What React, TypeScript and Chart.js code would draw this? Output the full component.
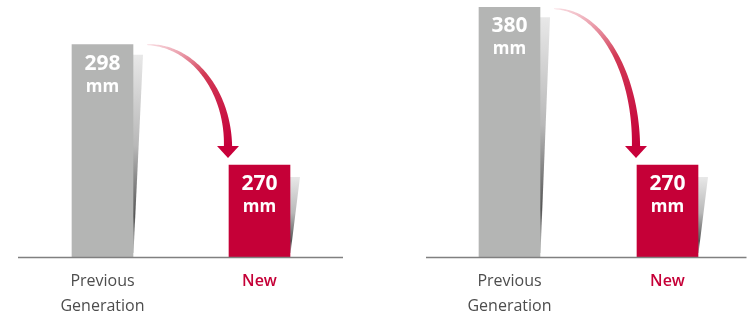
import React, { useEffect, useRef } from 'react';
import { Chart, registerables } from 'chart.js';

Chart.register(...registerables);

// ---- data ----
const categories: (string | string[])[] = [['Previous', 'Generation'], 'New'];
const leftValues = [298, 270];
const rightValues = [380, 270];
const unitLabel = 'mm';

const GRAY = '#b4b5b4';
const RED = '#c50037';
const LABEL_GRAY = '#4d4d4d';
const FONT = '"Open Sans", "Noto Sans", sans-serif';

const decorPlugin = {
  id: 'decor',
  beforeDatasetsDraw(chart: any) {
    const ctx = chart.ctx;
    const meta = chart.getDatasetMeta(0);
    const area = chart.chartArea;
    ctx.save();
    meta.data.forEach((bar: any, i: number) => {
      const base = Math.min(bar.base, area.bottom);
      const right = bar.x + bar.width / 2;
      const top = bar.y + (i === 0 ? 10 : 12);
      const bottom = base - 4;
      const g = ctx.createLinearGradient(0, top, 0, base);
      g.addColorStop(0, '#e8e8e8');
      g.addColorStop(0.45, '#b8b8b8');
      g.addColorStop(0.8, '#555555');
      g.addColorStop(1, '#d0d0d0');
      ctx.fillStyle = g;
      ctx.beginPath();
      ctx.moveTo(right, top);
      ctx.lineTo(right + 10, top);
      ctx.lineTo(right + 0.5, bottom);
      ctx.lineTo(right, bottom);
      ctx.closePath();
      ctx.fill();
    });
    ctx.restore();
  },
  afterDatasetsDraw(chart: any, _args: any, opts: any) {
    const ctx = chart.ctx;
    const area = chart.chartArea;
    const meta = chart.getDatasetMeta(0);
    ctx.save();
    // baseline
    ctx.strokeStyle = '#808080';
    ctx.lineWidth = 1.3;
    ctx.beginPath();
    ctx.moveTo(area.left - (opts.extendLeft || 0), area.bottom + 0.5);
    ctx.lineTo(area.right + (opts.extendRight || 0), area.bottom + 0.5);
    ctx.stroke();

    // value labels
    const values = chart.data.datasets[0].data;
    meta.data.forEach((bar: any, i: number) => {
      ctx.fillStyle = '#ffffff';
      ctx.textAlign = 'center';
      ctx.textBaseline = 'middle';
      ctx.font = `bold 21px ${FONT}`;
      ctx.fillText(String(values[i]), bar.x, bar.y + 19);
      ctx.font = `bold 17px ${FONT}`;
      ctx.fillText(unitLabel, bar.x, bar.y + 42);
    });

    // arrow
    const g0 = meta.data[0];
    const r = meta.data[1];
    const sx = g0.x + g0.width / 2 + 14;
    const sy = g0.y + (opts.startDy || 0);
    const ex = r.x - r.width / 2 - 1;
    const headBaseY = r.y - 19;
    const tipY = r.y - 7;
    const cx = sx;
    const cy = headBaseY;
    const rx = ex - sx;
    const ry = headBaseY - sy;
    const N = 80;
    const outer: [number, number][] = [];
    const inner: [number, number][] = [];
    for (let k = 0; k <= N; k++) {
      const t = k / N;
      const th = (Math.PI / 2) * (1 - t);
      const px = cx + rx * Math.cos(th);
      const py = cy - ry * Math.sin(th);
      let tx = rx * Math.sin(th);
      let ty = ry * Math.cos(th);
      const len = Math.hypot(tx, ty) || 1;
      tx /= len;
      ty /= len;
      const nx = -ty;
      const ny = tx;
      const hw = 0.3 + 3.8 * Math.pow(t, 0.8);
      outer.push([px + nx * hw, py + ny * hw]);
      inner.push([px - nx * hw, py - ny * hw]);
    }
    const grad = ctx.createLinearGradient(sx, sy, ex, headBaseY);
    grad.addColorStop(0, 'rgba(235,150,165,0.35)');
    grad.addColorStop(0.45, '#d23a55');
    grad.addColorStop(1, '#c5003a');
    ctx.fillStyle = grad;
    ctx.beginPath();
    ctx.moveTo(outer[0][0], outer[0][1]);
    outer.forEach((p) => ctx.lineTo(p[0], p[1]));
    for (let k = inner.length - 1; k >= 0; k--) ctx.lineTo(inner[k][0], inner[k][1]);
    ctx.closePath();
    ctx.fill();
    ctx.fillStyle = '#c8003a';
    ctx.beginPath();
    ctx.moveTo(ex - 11, headBaseY);
    ctx.lineTo(ex + 11, headBaseY);
    ctx.lineTo(ex, tipY);
    ctx.closePath();
    ctx.fill();
    ctx.restore();
  },
};

type PanelProps = {
  values: number[];
  yMin: number;
  yMax: number;
  padLeft: number;
  padRight: number;
  extendLeft: number;
  extendRight: number;
  startDy: number;
  left: number;
  width: number;
};

function Panel(props: PanelProps) {
  const ref = useRef<HTMLCanvasElement | null>(null);
  useEffect(() => {
    if (!ref.current) return;
    const chart = new Chart(ref.current, {
      type: 'bar',
      data: {
        labels: categories as any,
        datasets: [
          {
            data: props.values,
            backgroundColor: [GRAY, RED],
            barThickness: 61,
            borderWidth: 0,
          },
        ],
      },
      options: {
        responsive: false,
        animation: false,
        devicePixelRatio: 1,
        layout: { padding: { left: props.padLeft, right: props.padRight, top: 0, bottom: 0 } },
        plugins: {
          legend: { display: false },
          tooltip: { enabled: false },
          decor: {
            extendLeft: props.extendLeft,
            extendRight: props.extendRight,
            startDy: props.startDy,
          },
        } as any,
        scales: {
          x: {
            type: 'category',
            offset: true,
            grid: { display: false, drawTicks: false },
            border: { display: false },
            ticks: {
              padding: 12,
              maxRotation: 0,
              autoSkip: false,
              color: (c: any) => (c.index === 1 ? RED : LABEL_GRAY),
              font: (c: any) => ({
                family: FONT,
                size: 16,
                weight: c.index === 1 ? '600' : '500',
                lineHeight: 1.55,
              }),
            },
            afterFit: (s: any) => {
              s.height = 63;
            },
          },
          y: {
            display: false,
            min: props.yMin,
            max: props.yMax,
          },
        },
      },
      plugins: [decorPlugin as any],
    });
    return () => chart.destroy();
  }, []);
  return (
    <div style={{ position: 'absolute', left: props.left, top: 0, width: props.width, height: 320 }}>
      <canvas ref={ref} width={props.width} height={320} style={{ display: 'block' }} />
    </div>
  );
}

export default function App() {
  return (
    <div style={{ position: 'absolute', left: 0, top: 0, width: 747, height: 320, background: '#fff' }}>
      <Panel
        values={leftValues}
        yMin={248.6}
        yMax={308.4}
        padLeft={24}
        padRight={35}
        extendLeft={6}
        extendRight={5}
        startDy={0}
        left={0}
        width={373}
      />
      <Panel
        values={rightValues}
        yMin={205.8}
        yMax={385.1}
        padLeft={57.5}
        padRight={0.5}
        extendLeft={4.5}
        extendRight={0}
        startDy={1.5}
        left={373}
        width={374}
      />
    </div>
  );
}
